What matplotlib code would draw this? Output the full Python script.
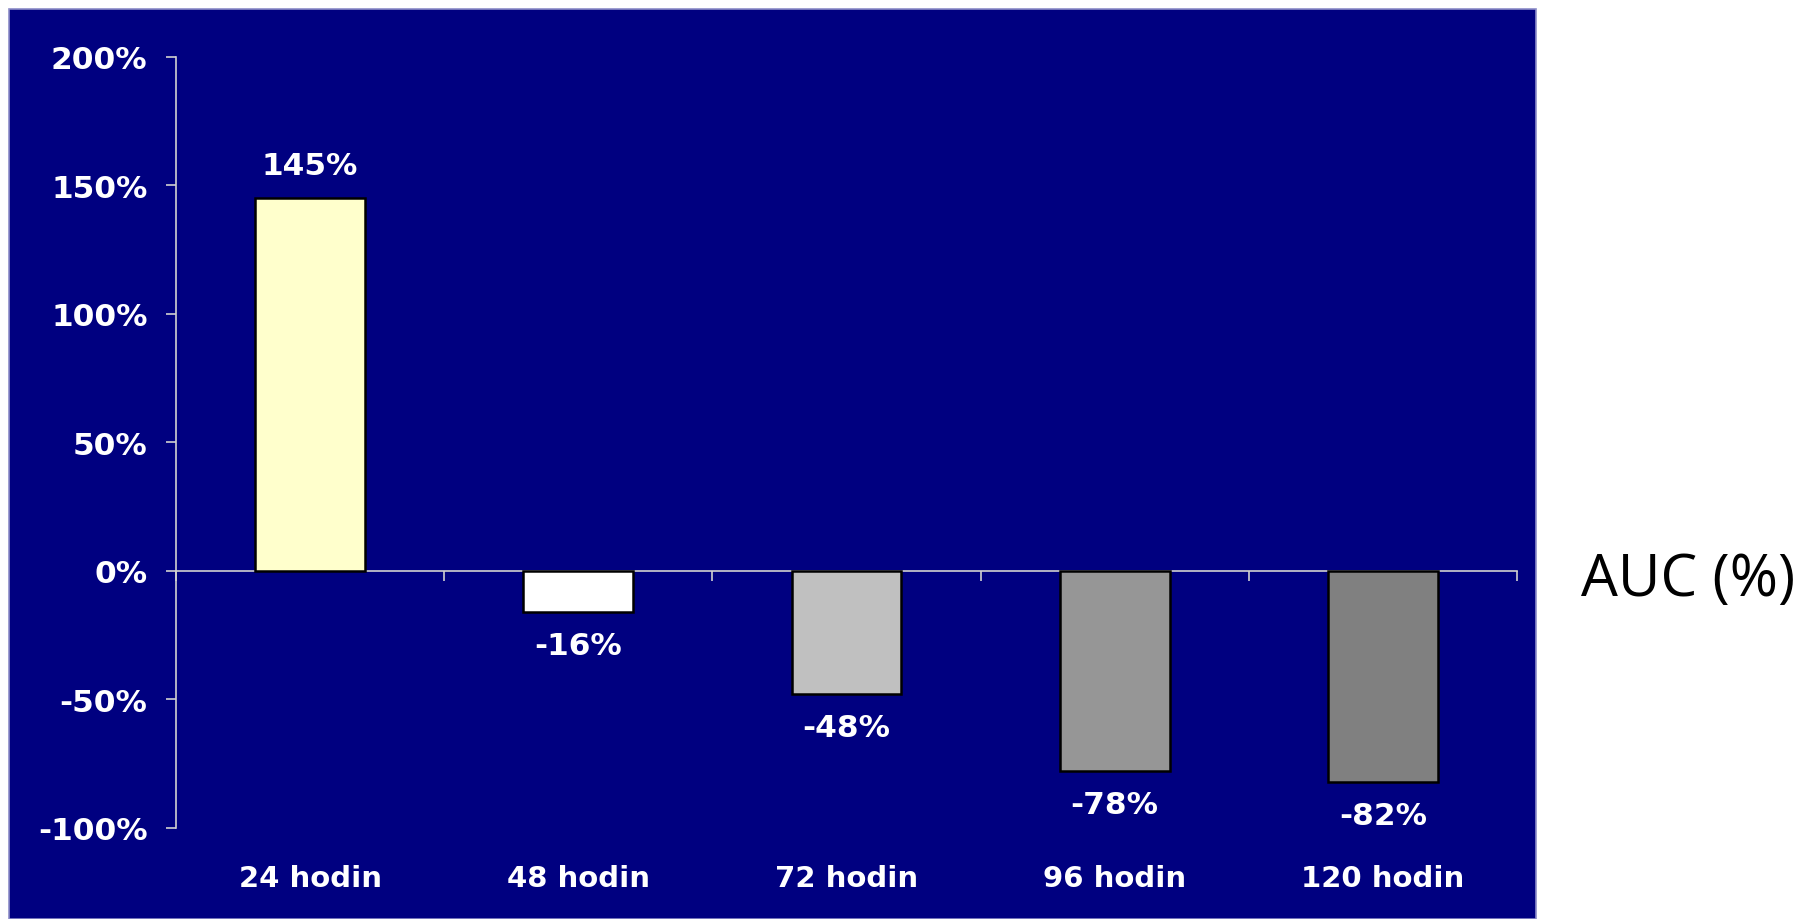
import matplotlib
matplotlib.use("Agg")
import matplotlib.pyplot as plt
from matplotlib.patches import Rectangle
from matplotlib.ticker import FuncFormatter, FixedLocator

categories = ["24 hodin", "48 hodin", "72 hodin", "96 hodin", "120 hodin"]
auc_change = [145, -16, -48, -78, -82]
bar_colors = ["#FFFFCC", "#FFFFFF", "#C0C0C0", "#969696", "#808080"]
y_ticks = [-100, -50, 0, 50, 100, 150, 200]
side_label = "AUC (%)"

W, H = 1804, 920
fig = plt.figure(figsize=(W / 100, H / 100), dpi=100)
fig.patch.set_facecolor("white")

# navy slide panel behind the chart
panel = Rectangle((9 / W, 0), (1536 - 9) / W, (H - 10) / H,
                  transform=fig.transFigure, facecolor="#000080",
                  edgecolor="#8C8CC8", linewidth=1.2, zorder=-10)
fig.patches.append(panel)

ax = fig.add_axes([176 / W, 1 - 829 / H, (1517 - 176) / W, (829 - 57.5) / H])
ax.set_facecolor("none")

x = list(range(len(categories)))
ax.bar(x, auc_change, width=0.41, color=bar_colors, edgecolor="black",
       linewidth=1.8, zorder=3)

ax.set_xlim(-0.5, len(categories) - 0.5)
ax.set_ylim(-100, 200)

axis_col = "#D0D0D0"
for s in ["top", "right"]:
    ax.spines[s].set_visible(False)
ax.spines["left"].set_color(axis_col)
ax.spines["left"].set_linewidth(1.2)
ax.spines["bottom"].set_position(("data", 0))
ax.spines["bottom"].set_color(axis_col)
ax.spines["bottom"].set_linewidth(1.2)

ax.yaxis.set_major_locator(FixedLocator(y_ticks))
ax.yaxis.set_major_formatter(FuncFormatter(lambda v, p: f"{v:.0f}%"))
ax.tick_params(axis="y", direction="out", length=7.5, width=1.2,
               color=axis_col, pad=13, labelcolor="white", labelsize=22.5)
for lab in ax.get_yticklabels():
    lab.set_fontweight("bold")

ax.xaxis.set_major_locator(FixedLocator([i - 0.5 for i in range(len(categories) + 1)]))
ax.tick_params(axis="x", direction="out", length=7.5, width=1.2,
               color=axis_col, labelbottom=False)

# category names below the plotting area
for i, name in enumerate(categories):
    ax.annotate(name, xy=(i, 0), xycoords=("data", "axes fraction"),
                xytext=(0, -36), textcoords="offset points",
                ha="center", va="center", color="white",
                fontsize=21, fontweight="bold")

# value labels above / below each bar
for i, v in enumerate(auc_change):
    off = 23 if v >= 0 else -24
    ax.annotate(f"{v}%", xy=(i, v), xytext=(0, off), textcoords="offset points",
                ha="center", va="center", color="white",
                fontsize=22.5, fontweight="bold", zorder=4)

fig.text(1688 / W, 1 - 581 / H, side_label, ha="center", va="center",
         color="black", fontsize=42, family="Open Sans")

fig.savefig("out.png", dpi=100, facecolor=fig.get_facecolor())
